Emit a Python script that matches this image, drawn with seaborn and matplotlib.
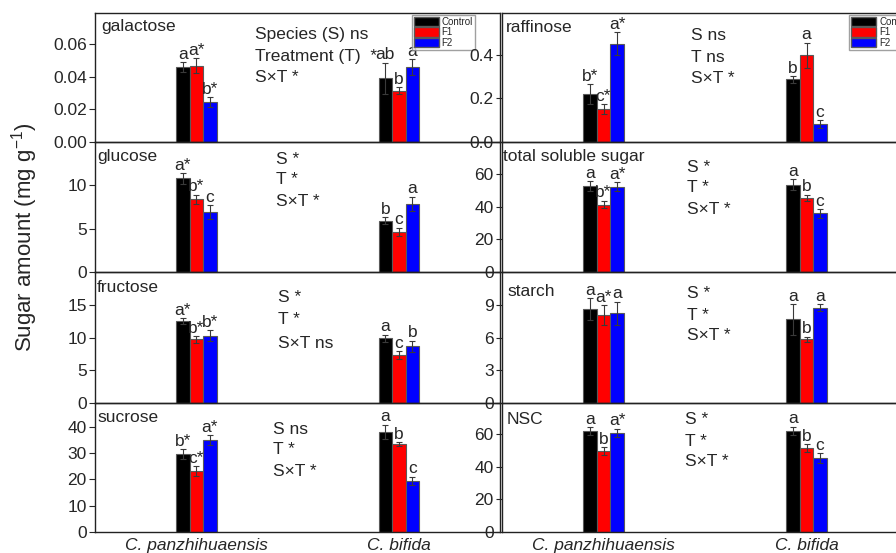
import numpy as np
import pandas as pd
import matplotlib
matplotlib.use("Agg")
import matplotlib.pyplot as plt
import seaborn as sns
from matplotlib.patches import Patch

species = ["C. panzhihuaensis", "C. bifida"]
treatments = ["Control", "F1", "F2"]
colors = ["#000000", "#ff0000", "#0000ff"]

# values ordered: [Cp-Control, Cp-F1, Cp-F2, Cb-Control, Cb-F1, Cb-F2]
galactose = [0.0460, 0.0468, 0.0246, 0.0391, 0.0314, 0.0459]
galactose_err = [0.0030, 0.0046, 0.0029, 0.0095, 0.0022, 0.0049]
galactose_lab = ["a", "a*", "b*", "ab", "b", "a"]

raffinose = [0.2195, 0.150, 0.450, 0.286, 0.397, 0.082]
raffinose_err = [0.044, 0.023, 0.053, 0.015, 0.058, 0.019]
raffinose_lab = ["b*", "c*", "a*", "b", "a", "c"]

glucose = [10.8, 8.4, 6.93, 5.9, 4.63, 7.89]
glucose_err = [0.6, 0.5, 0.77, 0.4, 0.47, 0.81]
glucose_lab = ["a*", "b*", "c", "b", "c", "a"]

tss = [52.8, 41.5, 52.4, 53.7, 45.5, 36.0]
tss_err = [3.1, 2.4, 2.8, 3.3, 2.0, 2.8]
tss_lab = ["a", "b*", "a*", "a", "b", "c"]

fructose = [12.5, 9.7, 10.25, 9.9, 7.35, 8.67]
fructose_err = [0.45, 0.5, 0.82, 0.55, 0.6, 0.87]
fructose_lab = ["a*", "b*", "b*", "a", "c", "b"]

starch = [8.57, 8.05, 8.2, 7.65, 5.84, 8.72]
starch_err = [1.01, 0.91, 1.07, 1.38, 0.25, 0.33]
starch_lab = ["a", "a*", "a", "a", "b", "a"]

sucrose = [29.5, 23.1, 35.0, 38.0, 33.3, 19.4]
sucrose_err = [1.9, 1.9, 1.8, 2.7, 0.8, 1.6]
sucrose_lab = ["b*", "c*", "a*", "a", "b", "c"]

nsc = [61.8, 49.5, 60.7, 61.8, 51.4, 45.1]
nsc_err = [2.4, 2.3, 2.5, 2.6, 2.2, 3.0]
nsc_lab = ["a", "b", "a*", "a", "b", "c"]

panel_names = ["galactose", "raffinose", "glucose", "total soluble sugar",
               "fructose", "starch", "sucrose", "NSC"]
panel_vals = [galactose, raffinose, glucose, tss, fructose, starch, sucrose, nsc]
panel_errs = [galactose_err, raffinose_err, glucose_err, tss_err,
              fructose_err, starch_err, sucrose_err, nsc_err]
panel_labs = [galactose_lab, raffinose_lab, glucose_lab, tss_lab,
              fructose_lab, starch_lab, sucrose_lab, nsc_lab]
panel_ylim = [0.079, 0.59, 15, 80, 20, 12, 49, 79]
panel_yticks = [[0, 0.02, 0.04, 0.06], [0, 0.2, 0.4], [0, 5, 10], [0, 20, 40, 60],
                [0, 5, 10, 15], [0, 3, 6, 9], [0, 10, 20, 30, 40], [0, 20, 40, 60]]
panel_ytfmt = ["{:.2f}", "{:.1f}", "{:g}", "{:g}", "{:g}", "{:g}", "{:g}", "{:g}"]
panel_stats = [["Species (S) ns", "Treatment (T)  *", "S\u00d7T *"],
               ["S ns", "T ns", "S\u00d7T *"],
               ["S *", "T *", "S\u00d7T *"],
               ["S *", "T *", "S\u00d7T *"],
               ["S *", "T *", "S\u00d7T ns"],
               ["S *", "T *", "S\u00d7T *"],
               ["S ns", "T *", "S\u00d7T *"],
               ["S *", "T *", "S\u00d7T *"]]

sns.set_style("ticks")
plt.rcParams["font.family"] = ["Liberation Sans", "DejaVu Sans"]
plt.rcParams["mathtext.default"] = "regular"

W, H = 896, 553
fig = plt.figure(figsize=(W / 100, H / 100), dpi=100)

row_edges = [13, 142, 272, 403, 532]
col_left = [95, 502]
col_width = [405, 406]
# stats text pixel positions (x, [y1,y2,y3])
stats_pos = [(255, [35, 57, 77]), (691, [36, 58, 79]),
             (276, [159, 180, 202]), (687, [167, 188, 209]),
             (278, [297, 319, 343]), (687, [293, 315, 336]),
             (273, [430, 450, 472]), (685, [420, 442, 462])]
title_pos = [(101, 27), (506, 27), (97, 156), (503, 156),
             (97, 287), (507, 291), (97, 417), (507, 420)]

for i in range(8):
    r, c = divmod(i, 2)
    top, bot = row_edges[r], row_edges[r + 1]
    ax = fig.add_axes([col_left[c] / W, 1 - bot / H, col_width[c] / W, (bot - top) / H])
    ax.patch.set_visible(False)
    df = pd.DataFrame({
        "species": [s for s in species for _ in treatments],
        "treatment": treatments * 2,
        "value": panel_vals[i],
    })
    sns.barplot(data=df, x="species", y="value", hue="treatment",
                order=species, hue_order=treatments, palette=colors, saturation=1,
                width=0.2, errorbar=None, edgecolor="#5a5a5a", linewidth=0.8,
                legend=False, ax=ax)
    bar_containers = list(ax.containers)
    # error bars and letters
    for h, cont in enumerate(bar_containers):
        for s, bar in enumerate(cont.patches):
            idx = s * 3 + h
            xc = bar.get_x() + bar.get_width() / 2
            v = panel_vals[i][idx]
            e = panel_errs[i][idx]
            ax.errorbar(xc, v, yerr=e, color="#3a3a3a", elinewidth=0.8,
                        capsize=2, capthick=0.8, zorder=5)
            ax.text(xc, v + e + panel_ylim[i] * 0.003, panel_labs[i][idx],
                    ha="center", va="bottom", fontsize=12.5)
    ax.set_xlim(-0.5, 1.5)
    ax.set_ylim(0, panel_ylim[i])
    ax.set_yticks(panel_yticks[i])
    ax.set_yticklabels([panel_ytfmt[i].format(t) for t in panel_yticks[i]], fontsize=12.5)
    ax.set_xticks([0, 1])
    if r == 3:
        ax.set_xticklabels(species, fontsize=12.5, style="italic")
    else:
        ax.set_xticklabels(["", ""])
    ax.tick_params(axis="x", direction="in", length=4, width=0.8, pad=4)
    ax.tick_params(axis="y", direction="out", length=4, width=0.8, pad=2)
    ax.set_xlabel("")
    ax.set_ylabel("")
    for sp in ax.spines.values():
        sp.set_visible(True)
        sp.set_linewidth(1.0)
        sp.set_color("#222222")
    if r == 0:
        handles = [Patch(facecolor=col, edgecolor="#5a5a5a") for col in colors]
        if c == 0:
            kw = dict(loc="upper right", bbox_to_anchor=(0.938, 0.985))
        else:
            kw = dict(loc="upper left", bbox_to_anchor=(0.855, 0.985))
        leg = ax.legend(handles, treatments, fontsize=7, frameon=True, fancybox=False,
                        handlelength=2.6, handleheight=1.1, labelspacing=0.05,
                        borderpad=0.2, handletextpad=0.3, borderaxespad=0, **kw)
        leg.get_frame().set_edgecolor("#888888")
        leg.get_frame().set_linewidth(1.0)

    tx, ty = title_pos[i]
    fig.text(tx / W, 1 - ty / H, panel_names[i], fontsize=12.5, ha="left", va="center")
    sx, sys_ = stats_pos[i]
    for line, yy in zip(panel_stats[i], sys_):
        fig.text(sx / W, 1 - yy / H, line, fontsize=12.5, ha="left", va="center")

fig.text(25 / W, 1 - 237 / H, "Sugar amount (mg g$^{-1}$)", rotation=90,
         ha="center", va="center", fontsize=16)

fig.savefig("out.png", dpi=100)
